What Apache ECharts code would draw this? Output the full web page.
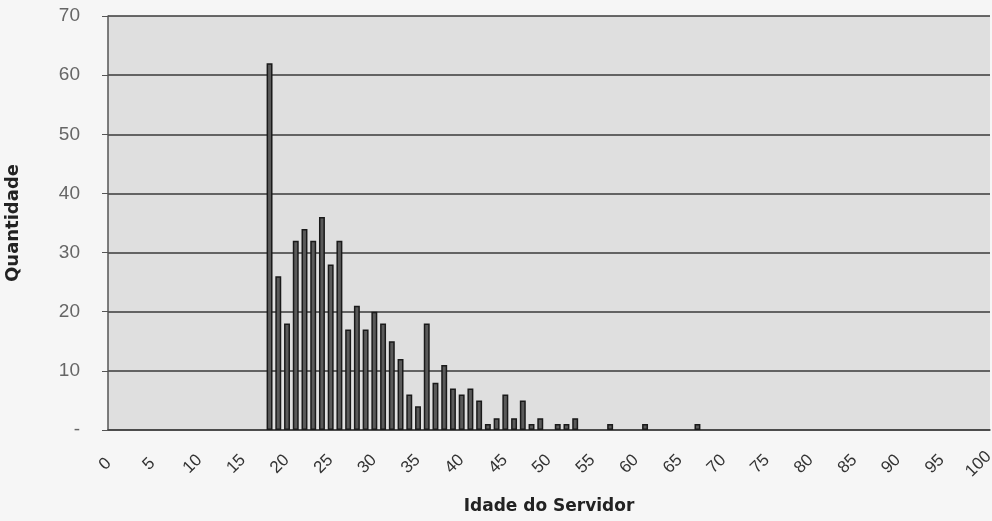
<!DOCTYPE html>
<html><head><meta charset="utf-8">
<script src="https://cdn.jsdelivr.net/npm/echarts@6/dist/echarts.min.js"></script>
<style>html,body{margin:0;padding:0;background:#f6f6f6;}#c{width:992px;height:521px;}</style>
</head><body><div id="c"></div>
<script>
const ages = [];
for (let a = 0; a <= 100; a++) ages.push(String(a));
// counts per age (index = age)
const counts = [
  0,0,0,0,0,0,0,0,0,0,
  0,0,0,0,0,0,0,0,62,26,
  18,32,34,32,36,28,32,17,21,17,
  20,18,15,12,6,4,18,8,11,7,
  6,7,5,1,2,6,2,5,1,2,
  0,1,1,2,0,0,0,1,0,0,
  0,1,0,0,0,0,0,1,0,0,
  0,0,0,0,0,0,0,0,0,0,
  0,0,0,0,0,0,0,0,0,0,
  0,0,0,0,0,0,0,0,0,0,
  0
];
const yTicks = [0,10,20,30,40,50,60,70];
const chart = echarts.init(document.getElementById('c'));
chart.setOption({
  animation:false,
  backgroundColor:'#f6f6f6',
  grid:{left:108,right:2,top:16,bottom:91,show:true,backgroundColor:'#dfdfdf',borderWidth:0,
    containLabel:false,outerBoundsMode:'none'},
  xAxis:{
    type:'category',data:ages,
    name:'Idade do Servidor',nameLocation:'middle',nameGap:68,
    nameTextStyle:{fontFamily:'DejaVu Sans',fontWeight:'bold',fontSize:17,color:'#222'},
    axisLine:{lineStyle:{color:'#444',width:1.5}},
    axisTick:{interval:0,length:5,lineStyle:{color:'#444'}},
    axisLabel:{interval:4,rotate:45,align:'center',verticalAlign:'middle',hideOverlap:false,
      padding:[0,20,0,0],
      fontFamily:'Liberation Sans',fontSize:17,color:'#333',margin:27}
  },
  yAxis:{
    type:'value',min:yTicks[0],max:yTicks[yTicks.length-1],interval:10,
    name:'Quantidade',nameLocation:'middle',nameGap:86,
    nameTextStyle:{fontFamily:'DejaVu Sans',fontWeight:'bold',fontSize:18,color:'#222'},
    axisLine:{show:true,lineStyle:{color:'#555',width:1.5}},
    axisTick:{show:true,length:6,lineStyle:{color:'#555'}},
    axisLabel:{fontFamily:'Liberation Sans',fontSize:19,color:'#666',margin:28,
      formatter:v=>v===0?'-':String(v)},
    splitLine:{lineStyle:{color:'#3a3a3a',width:1.5}}
  },
  series:[{
    type:'bar',data:counts.map(v=>v===0?'-':v),barCategoryGap:'32%',
    itemStyle:{color:'#5a5a5a',borderColor:'#1a1a1a',borderWidth:1.5}
  }]
});
</script></body></html>
